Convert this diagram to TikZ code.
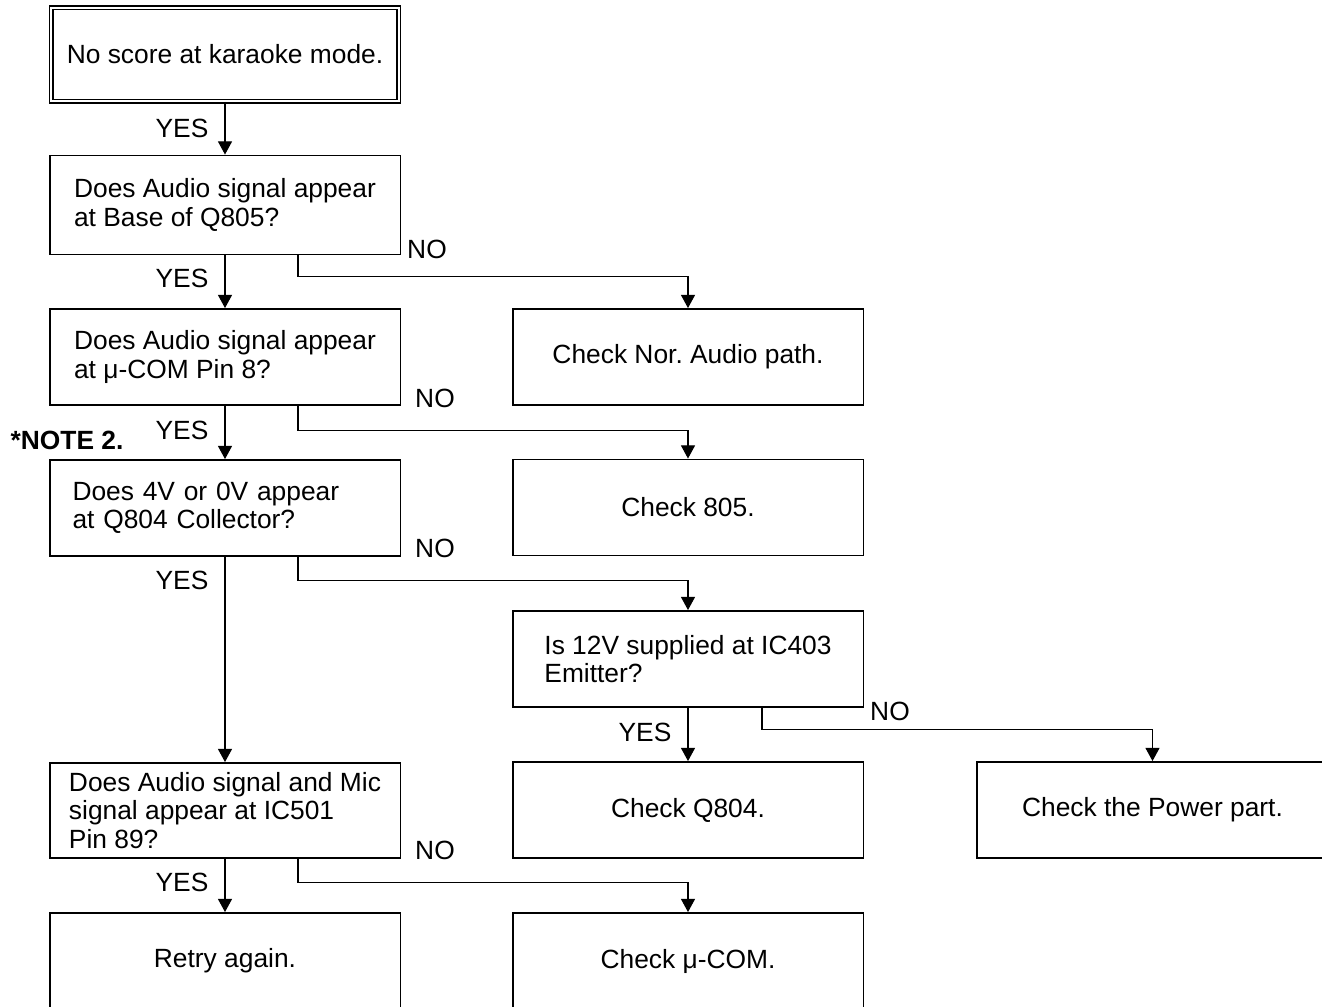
\documentclass[tikz,border=0pt]{standalone}
\usepackage{fontspec}
\setmainfont{Liberation Sans}
\frenchspacing
\usetikzlibrary{positioning,arrows.meta}

\tikzset{
  box/.style={draw,line width=1.1pt,minimum width=7.02cm,minimum height=1.92cm,inner sep=0pt,align=center},
  ask/.style={box,align=left},
  flow/.style={line width=0.6pt,-{Triangle[length=7.5pt,width=8pt]}},
  ans/.style={inner sep=0pt}
}

\begin{document}
\begin{tikzpicture}[x=0.02cm,y=-0.02cm,font=\fontsize{15}{16.2}\selectfont]
  \useasboundingbox (0,0) rectangle (1322,1007);
  \clip (0,0) rectangle (1322,1007);
  \node[box,double,line width=0.8pt,double distance=1.3pt,minimum width=6.95cm,minimum height=1.87cm] (start) at (225,54.5) {No score at karaoke mode.};
  \node[ask,minimum height=1.98cm] (baseq) at (225,205) {Does Audio signal appear\\at Base of Q805?};
  \node[ask] (pinq) at (225,357) {Does Audio signal appear\\at μ-COM Pin 8?};
  \node[ask,text width=6.1cm] (collq) at (225,508) {Does 4V or 0V appear\\at Q804 Collector?};
  \node[ask,minimum height=1.9cm] (micq) at (225,810.5) {Does Audio signal and Mic\\signal appear at IC501\\Pin 89?};
  \node[box] (retry) at (225,961) {Retry again.};
  \node[box] (norpath) at (688,357) {Check Nor. Audio path.};
  \node[box] (chk805) at (688,507.5) {Check 805.};
  \node[ask,minimum height=1.92cm] (emitq) at (688,659) {Is 12V supplied at IC403\\Emitter?};
  \node[box] (chkq804) at (688,810) {Check Q804.};
  \node[box] (chkcom) at (688,961) {Check μ-COM.};
  \node[box] (power) at (1152.5,810) {Check the Power part.};

  \draw[flow] (start.south) -- (baseq.north);
  \draw[flow] (baseq.south) -- (pinq.north);
  \draw[flow] (pinq.south) -- (collq.north);
  \draw[flow] (collq.south) -- (micq.north);
  \draw[flow] (micq.south) -- (retry.north);
  \draw[flow] (emitq.south) -- (chkq804.north);
  \draw[flow] (baseq.south) ++(73,0) -- ++(0,21) -| (norpath.north);
  \draw[flow] (pinq.south) ++(73,0) -- ++(0,25) -| (chk805.north);
  \draw[flow] (collq.south) ++(73,0) -- ++(0,24) -| (emitq.north);
  \draw[flow] (micq.south) ++(73,0) -- ++(0,24) -| (chkcom.north);
  \draw[flow] (emitq.south) ++(74,0) -- ++(0,22) -| (power.north);

  \node[ans] (yes1) at (182,128) {YES};
  \node[ans] (yes2) at (182,278) {YES};
  \node[ans] (yes3) at (182,430) {YES};
  \node[ans] (yes4) at (182,580) {YES};
  \node[ans] (yes5) at (182,882) {YES};
  \node[ans] (yes6) at (645,732) {YES};
  \node[ans] (no1) at (427,249) {NO};
  \node[ans] (no2) at (435,398) {NO};
  \node[ans] (no3) at (435,548) {NO};
  \node[ans] (no4) at (435,850) {NO};
  \node[ans] (no5) at (890,711) {NO};
  \node[ans,font=\fontsize{15}{16.2}\selectfont\bfseries] (note2) at (67,440) {*NOTE 2.};
\end{tikzpicture}
\end{document}
